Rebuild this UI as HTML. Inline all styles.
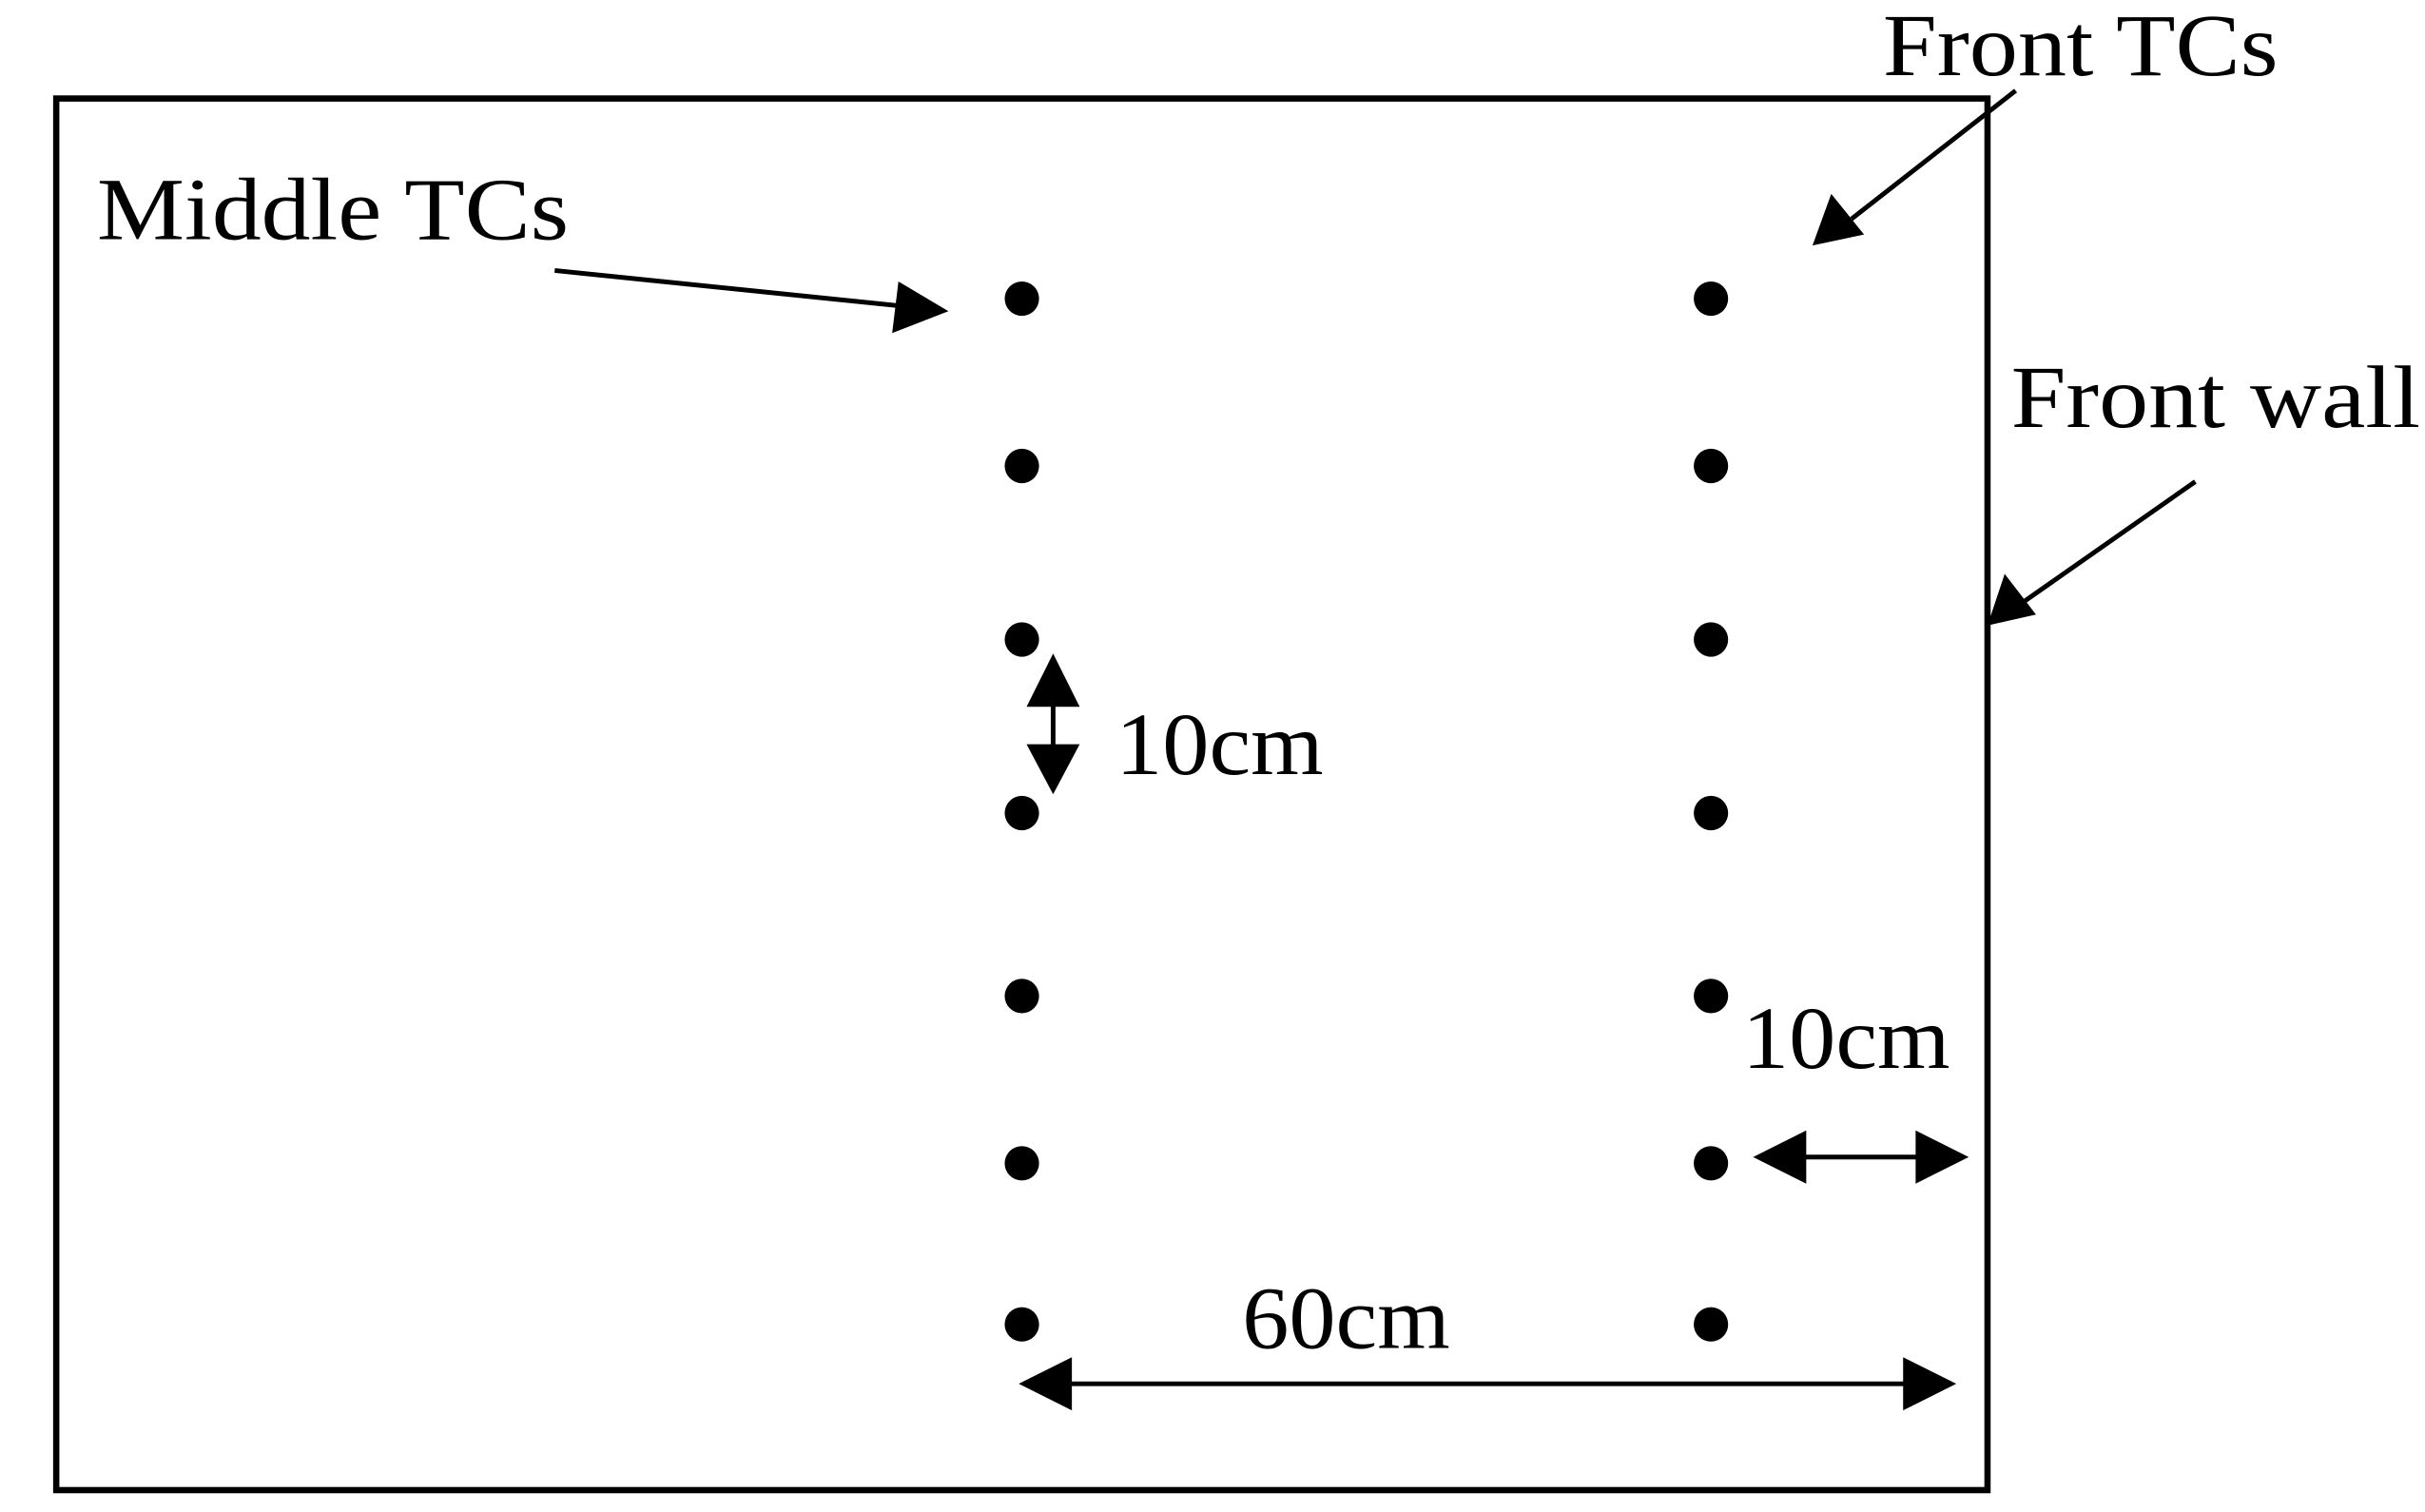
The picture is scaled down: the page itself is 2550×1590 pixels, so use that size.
<!DOCTYPE html>
<html><head><style>html,body{margin:0;padding:0;background:#fff;}svg{display:block;}</style></head>
<body>
<svg width="2550" height="1590" viewBox="0 0 1552 967" preserveAspectRatio="none" xmlns="http://www.w3.org/2000/svg">
<rect x="0" y="0" width="1552" height="967" fill="#fff"/>
<rect x="36" y="63" width="1236" height="890" fill="none" stroke="#000" stroke-width="4"/>
<g fill="#000">
<circle cx="654" cy="191" r="11"/><circle cx="654" cy="298" r="11"/><circle cx="654" cy="409" r="11"/><circle cx="654" cy="520" r="11"/><circle cx="654" cy="637" r="11"/><circle cx="654" cy="744" r="11"/><circle cx="654" cy="847" r="11"/>
<circle cx="1095" cy="191" r="11"/><circle cx="1095" cy="298" r="11"/><circle cx="1095" cy="409" r="11"/><circle cx="1095" cy="520" r="11"/><circle cx="1095" cy="637" r="11"/><circle cx="1095" cy="744" r="11"/><circle cx="1095" cy="847" r="11"/>
</g>
<g stroke="#000" stroke-width="3" fill="none">
<line x1="355" y1="173" x2="580" y2="196"/>
<line x1="1290" y1="58" x2="1185" y2="140"/>
<line x1="1405" y1="308" x2="1295" y2="385"/>
<line x1="674" y1="445" x2="674" y2="480"/>
<line x1="1150" y1="740" x2="1230" y2="740"/>
<line x1="680" y1="885" x2="1225" y2="885"/>
</g>
<g fill="#000">
<polygon points="607,199 571,213 575,180"/>
<polygon points="1160,157 1172,124 1193,150"/>
<polygon points="1272,400 1283,367 1303,393"/>
<polygon points="674,418 657,452 691,452"/>
<polygon points="674,508 657,476 691,476"/>
<polygon points="1122,740 1156,723 1156,757"/>
<polygon points="1260,740 1226,723 1226,757"/>
<polygon points="652,885 686,868 686,902"/>
<polygon points="1252,885 1218,868 1218,902"/>
</g>
<g font-family="'Liberation Serif', serif" font-size="57" fill="#000">
<text x="62" y="153" textLength="302" lengthAdjust="spacingAndGlyphs">Middle TCs</text>
<text x="1205" y="48" textLength="253" lengthAdjust="spacingAndGlyphs">Front TCs</text>
<text x="1287" y="273" textLength="262" lengthAdjust="spacingAndGlyphs">Front wall</text>
<text x="714" y="495" textLength="133" lengthAdjust="spacingAndGlyphs">10cm</text>
<text x="1115" y="683" textLength="133" lengthAdjust="spacingAndGlyphs">10cm</text>
<text x="795" y="862" textLength="133" lengthAdjust="spacingAndGlyphs">60cm</text>
</g>
</svg>
</body></html>
